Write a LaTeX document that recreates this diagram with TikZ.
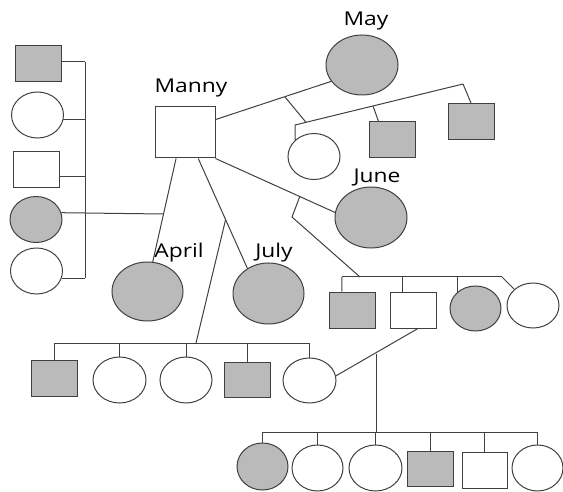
\documentclass[tikz,border=0pt]{standalone}
\usepackage{fontspec}
\setmainfont{Open Sans}[FakeStretch=1.2]
\usepackage{tikz}
\usetikzlibrary{
	shapes.geometric
}

\begin{document}
\begin{tikzpicture}[
		x=1pt, y=-1pt,
		line width=1pt, draw=black!75,
		male/.style={draw, rectangle, inner sep=0pt, minimum width=46pt, minimum height=36pt},
		female/.style={draw, ellipse, inner sep=0pt, minimum width=52pt, minimum height=46pt},
		affected/.style={fill=black!27},
		lbl/.style={anchor=base, inner sep=0pt, font=\fontsize{19}{21}\selectfont}
	]
		\useasboundingbox (0,0) rectangle (563,492);

		% left sibship
		\draw
			node[male,affected]   at (38.5,64)  (l1) {}
			node[female]          at (37.5,115) (l2) {}
			node[male]            at (36.5,170) (l3) {}
			node[female,affected] at (36,219.5) (l4) {}
			node[female]          at (36.5,271) (l5) {}
		;
		\coordinate (ltop) at (85,62);
		\coordinate (lbot) at (85,278);
		\coordinate (aprdrop) at (163,214);
		\draw (ltop) -- (lbot);
		\draw (l1.east |- ltop) -- (ltop);
		\draw (l2.-10) -- (l2.-10 -| ltop);
		\draw (l3.-15) -- (l3.-15 -| ltop);
		\draw (l5.-17) -- (l5.-17 -| ltop);
		\draw (l4.15) -- (aprdrop);

		% Manny and his partners
		\draw
			node[male,minimum width=60pt,minimum height=51pt] at (185,132.5) (manny) {}
			node[female,affected,minimum width=72pt,minimum height=60pt] at (362,65)    (may)   {}
			node[female,affected,minimum width=72pt,minimum height=61pt] at (371,217.5) (june)  {}
			node[female,affected,minimum width=71pt,minimum height=59pt] at (147.5,291.5) (april) {}
			node[female,affected,minimum width=71pt,minimum height=61pt] at (268.5,293.5) (july)  {}
		;
		\node[lbl] at (191,93)  (mannylbl) {Manny};
		\node[lbl] at (366,26)  (maylbl)   {May};
		\node[lbl] at (377,183) (junelbl)  {June};
		\node[lbl] at (179,258) (aprillbl) {April};
		\node[lbl] at (274,258) (julylbl)  {July};

		\draw (manny.23) -- (may.208);
		\draw (manny.south east) -- (june.172);
		\draw (manny.251) -- (april.80);
		\draw (manny.297) -- (july.130);

		% children of Manny and May
		\draw
			node[female]          at (314,156.5) (c1) {}
			node[male,affected]   at (392,140)   (c2) {}
			node[male,affected]   at (471,121.5) (c3) {}
		;
		\coordinate (maydrop) at (285,97);
		\coordinate (mays1) at (295,125);
		\coordinate (mays2) at (306,122.3);
		\coordinate (mays3) at (373,106);
		\coordinate (mays4) at (463,84);
		\draw (maydrop) -- (mays2);
		\draw (mays1) -- (mays4);
		\draw (mays1) -- (c1.north west);
		\draw (mays3) -- (c2.126);
		\draw (mays4) -- (c3.north);

		% children of Manny and June
		\draw
			node[male,affected]   at (352.5,310) (j1) {}
			node[male]            at (413,310)   (j2) {}
			node[female,affected,minimum width=51pt,minimum height=45pt] at (475.5,308.5) (j3) {}
			node[female,minimum height=45pt] at (533,305.5) (j4) {}
		;
		\coordinate (junedrop) at (300,196);
		\coordinate (junekink) at (292,217);
		\coordinate (junes) at (360,277);
		\coordinate (junes1) at (342,277);
		\coordinate (junes2) at (502,277);
		\draw (junedrop) -- (junekink) -- (junes);
		\draw (junes1) -- (junes2);
		\draw (junes1) -- (j1.120);
		\draw (j2.119 |- junes1) -- (j2.119);
		\draw (j3.north west |- junes1) -- (j3.north west);
		\draw (junes2) -- (j4.north west);

		% children of Manny and July
		\draw
			node[male,affected]   at (54,378)      (b1) {}
			node[female,minimum width=53pt] at (119.5,380) (b2) {}
			node[female]          at (186,380)     (b3) {}
			node[male,affected,minimum height=35pt] at (247,379.5) (b4) {}
			node[female,minimum width=53pt,minimum height=45pt] at (309.5,380.5) (b5) {}
		;
		\coordinate (julydrop) at (225.5,220);
		\coordinate (julys) at (196,343);
		\draw (julydrop) -- (julys);
		\draw (b1.north |- julys) -- (b5.north |- julys);
		\foreach \k in {b1,b2,b3,b4,b5}
			\draw (\k.north) -- (\k.north |- julys);

		% grandchildren
		\draw
			node[female,affected,minimum width=51pt,minimum height=47pt] at (262.5,466.5) (g1) {}
			node[female,minimum width=51pt] at (317.5,468) (g2) {}
			node[female,minimum width=53pt] at (375.5,468) (g3) {}
			node[male,affected,minimum height=35pt] at (430,468.5) (g4) {}
			node[male,minimum width=45pt] at (484.5,470) (g5) {}
			node[female,minimum width=51pt] at (537.5,468) (g6) {}
		;
		\coordinate (gdrop) at (376,354);
		\coordinate (gsib) at (376,432);
		\draw (b5.10) -- (j2.285);
		\draw (gdrop) -- (gsib);
		\draw (g1.north |- gsib) -- (g6.north |- gsib);
		\foreach \k in {g1,g2,g3,g4,g5,g6}
			\draw (\k.north) -- (\k.north |- gsib);
	\end{tikzpicture}
\end{document}
